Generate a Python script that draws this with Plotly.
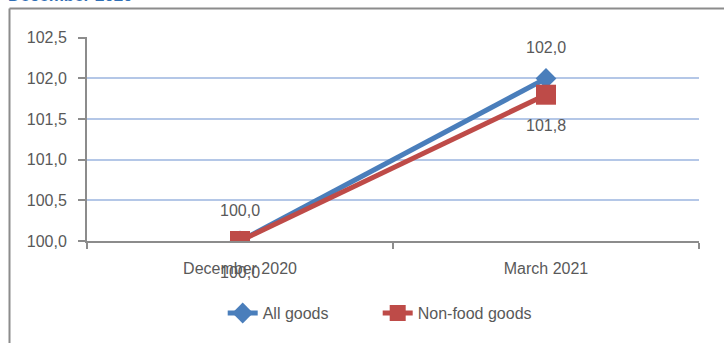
import plotly.graph_objects as go

categories = ["December 2020", "March 2021"]
all_goods = [100.0, 102.0]
non_food = [100.0, 101.8]
y_ticks = [100.0, 100.5, 101.0, 101.5, 102.0, 102.5]

FONT = "Liberation Sans"
GRAY_TXT = "#595959"
BLUE = "#4a7ebb"
RED = "#be4b48"

fig = go.Figure()
fig.add_trace(go.Scatter(
    x=categories, y=all_goods, name="All goods", mode="lines+markers",
    line=dict(color=BLUE, width=5),
    marker=dict(symbol="diamond", size=16, color=BLUE),
))
fig.add_trace(go.Scatter(
    x=categories, y=non_food, name="Non-food goods", mode="lines+markers",
    line=dict(color=RED, width=5),
    marker=dict(symbol="square", size=20, color=RED),
))

def fmt(v):
    return f"{v:.1f}".replace(".", ",")

annotations = []
for c, v in zip(categories, all_goods):
    annotations.append(dict(x=c, y=v, xref="x", yref="y", text=fmt(v), showarrow=False,
                            yshift=31, font=dict(family=FONT, size=16, color=GRAY_TXT)))
for c, v in zip(categories, non_food):
    annotations.append(dict(x=c, y=v, xref="x", yref="y", text=fmt(v), showarrow=False,
                            yshift=-31, font=dict(family=FONT, size=16, color=GRAY_TXT)))

W, H = 724, 343
L, R, T, B = 87, 25, 37, 102
pw, ph = W - L - R, H - T - B
def px(x):
    return (x - L) / pw
def py(y):
    return (H - B - y) / ph

# cropped title at the top
annotations.append(dict(x=px(6), y=py(7), xref="paper", yref="paper", xanchor="left", yanchor="bottom",
                        text="<b>December 2020</b>", showarrow=False,
                        font=dict(family=FONT, size=17, color="#2f6eb5")))

shapes = [
    dict(type="line", xref="paper", yref="paper", x0=px(9.5), x1=px(730), y0=py(8.5), y1=py(8.5),
         line=dict(color="#8c8c8c", width=2)),
    dict(type="line", xref="paper", yref="paper", x0=px(9.5), x1=px(9.5), y0=py(8.5), y1=py(350),
         line=dict(color="#8c8c8c", width=2)),
]

fig.update_layout(
    width=W, height=H,
    margin=dict(l=L, r=R, t=T, b=B),
    paper_bgcolor="white", plot_bgcolor="white",
    separators=",.",
    font=dict(family=FONT, size=16, color=GRAY_TXT),
    showlegend=True,
    legend=dict(orientation="h", x=0.475, xanchor="center", y=-0.27, yanchor="top",
                entrywidth=110, entrywidthmode="pixels",
                font=dict(family=FONT, size=16, color=GRAY_TXT)),
    annotations=annotations,
    shapes=shapes,
    xaxis=dict(type="category", range=[-0.5, 1.5], showgrid=False,
               showline=True, linecolor="#8c8c8c", linewidth=2,
               ticks="outside", tickson="boundaries", ticklen=6, tickcolor="#8c8c8c", tickwidth=1.5,
               ticklabelstandoff=12,
               tickfont=dict(family=FONT, size=16, color=GRAY_TXT)),
    yaxis=dict(range=[100.0, 102.51], tickvals=y_ticks, tickformat=".1f",
               showgrid=True, gridcolor="#b4c7e7", gridwidth=1.5,
               showline=True, linecolor="#8c8c8c", linewidth=2,
               ticks="outside", ticklen=7, tickcolor="#8c8c8c", tickwidth=1.5,
               ticklabelstandoff=8,
               zeroline=False, tickfont=dict(family=FONT, size=16, color=GRAY_TXT)),
)

fig.write_html("out.html")
